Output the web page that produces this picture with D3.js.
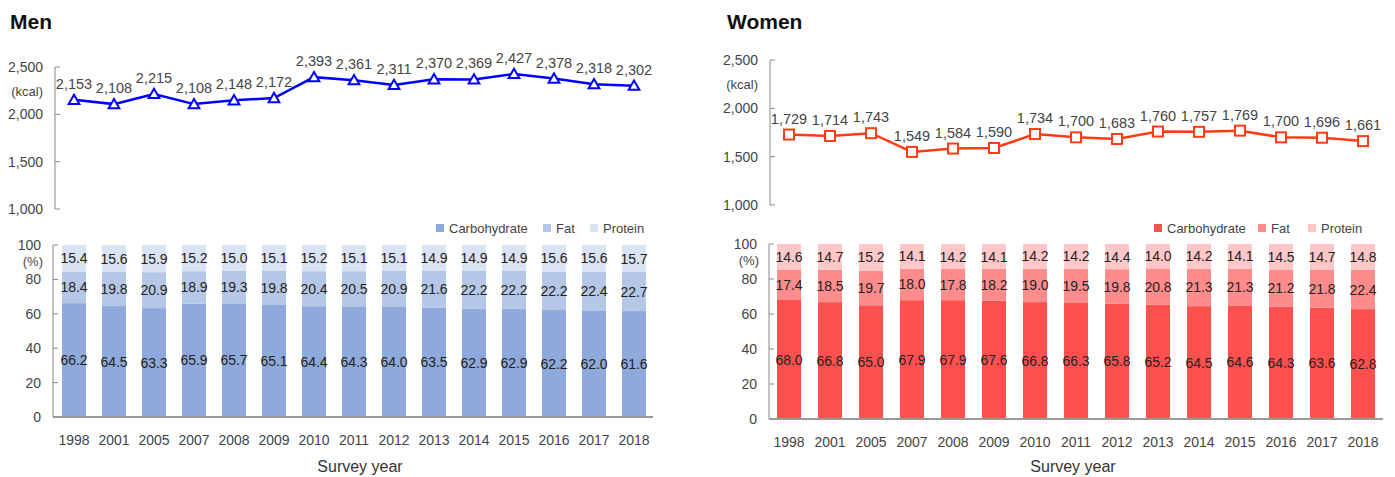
<!DOCTYPE html>
<html>
<head>
<meta charset="utf-8">
<script src="https://cdn.jsdelivr.net/npm/d3@7"></script>
<style>
  body { margin: 0; background: #fff; }
  svg { font-family: "Liberation Sans", Arial, sans-serif; }
  .tick-label { fill: #444; font-size: 14px; }
  .val { fill: #444; font-size: 14.5px; }
  .bar-val { fill: #222; font-size: 14px; }
</style>
</head>
<body>
<script>
// survey years
var years = ["1998","2001","2005","2007","2008","2009","2010","2011","2012","2013","2014","2015","2016","2017","2018"];

// energy intake (kcal)
var menKcal = [2153,2108,2215,2108,2148,2172,2393,2361,2311,2370,2369,2427,2378,2318,2302];
var womenKcal = [1729,1714,1743,1549,1584,1590,1734,1700,1683,1760,1757,1769,1700,1696,1661];

// energy share (%)
var menCarb = [66.2,64.5,63.3,65.9,65.7,65.1,64.4,64.3,64.0,63.5,62.9,62.9,62.2,62.0,61.6];
var menFat = [18.4,19.8,20.9,18.9,19.3,19.8,20.4,20.5,20.9,21.6,22.2,22.2,22.2,22.4,22.7];
var menProt = [15.4,15.6,15.9,15.2,15.0,15.1,15.2,15.1,15.1,14.9,14.9,14.9,15.6,15.6,15.7];
var womenCarb = [68.0,66.8,65.0,67.9,67.9,67.6,66.8,66.3,65.8,65.2,64.5,64.6,64.3,63.6,62.8];
var womenFat = [17.4,18.5,19.7,18.0,17.8,18.2,19.0,19.5,19.8,20.8,21.3,21.3,21.2,21.8,22.4];
var womenProt = [14.6,14.7,15.2,14.1,14.2,14.1,14.2,14.2,14.4,14.0,14.2,14.1,14.5,14.7,14.8];

var kcalTicks = [1000,1500,2000,2500];
var pctTicks = [0,20,40,60,80,100];
var nutrients = ["Carbohydrate","Fat","Protein"];

var svg = d3.select("body").append("svg")
  .attr("width", 1395)
  .attr("height", 477);

var fmt = d3.format(",");

function drawPanel(p) {
  var g = svg.append("g");

  // title
  g.append("text")
    .attr("x", p.titleX).attr("y", 29)
    .style("font-size", "21px").style("font-weight", "bold")
    .attr("fill", "#111")
    .text(p.title);

  var x = d3.scalePoint().domain(years).range([p.x0, p.x1]);

  // ---- line chart ----
  var yL = d3.scaleLinear().domain([1000, 2500]).range([p.lineBottom, p.lineTop]);

  g.append("line")
    .attr("x1", p.lineAxisX).attr("x2", p.lineAxisX)
    .attr("y1", yL(1000)).attr("y2", yL(2500))
    .attr("stroke", "#888").attr("stroke-width", 1);

  g.selectAll(".ktick").data(kcalTicks).enter().append("line")
    .attr("x1", p.lineAxisX).attr("x2", p.lineAxisX + 5)
    .attr("y1", d => yL(d)).attr("y2", d => yL(d))
    .attr("stroke", "#888");

  g.selectAll(".klab").data(kcalTicks).enter().append("text")
    .attr("class", "tick-label")
    .attr("x", p.lineAxisX - 12).attr("y", d => yL(d) + 5)
    .attr("text-anchor", "end")
    .text(d => fmt(d));

  g.append("text")
    .attr("class", "tick-label")
    .attr("x", p.lineAxisX - 12).attr("y", yL(2500) + 29)
    .attr("text-anchor", "end")
    .style("font-size", "13px")
    .text("(kcal)");

  var line = d3.line().x((d, i) => x(years[i])).y(d => yL(d));

  g.append("path")
    .datum(p.kcal)
    .attr("d", line)
    .attr("fill", "none")
    .attr("stroke", p.lineColor)
    .attr("stroke-width", 2.5);

  if (p.marker === "triangle") {
    g.selectAll(".mk").data(p.kcal).enter().append("path")
      .attr("d", d3.symbol().type(d3.symbolTriangle).size(50))
      .attr("transform", (d, i) => "translate(" + x(years[i]) + "," + (yL(d) + 1) + ")")
      .attr("fill", "#fff").attr("stroke", p.lineColor).attr("stroke-width", 2);
  } else {
    g.selectAll(".mk").data(p.kcal).enter().append("rect")
      .attr("x", (d, i) => x(years[i]) - 5).attr("y", d => yL(d) - 5)
      .attr("width", 10).attr("height", 10)
      .attr("fill", "#fff").attr("stroke", p.lineColor).attr("stroke-width", 2);
  }

  g.selectAll(".kv").data(p.kcal).enter().append("text")
    .attr("class", "val")
    .attr("x", (d, i) => x(years[i])).attr("y", d => yL(d) - 11)
    .attr("text-anchor", "middle")
    .text(d => fmt(d));

  // ---- stacked bars ----
  var yB = d3.scaleLinear().domain([0, 100]).range([p.barBottom, p.barTop]);
  var rows = years.map((yr, i) => ({ year: yr, Carbohydrate: p.carb[i], Fat: p.fat[i], Protein: p.prot[i] }));
  var stack = d3.stack().keys(nutrients)(rows);
  var color = d3.scaleOrdinal().domain(nutrients).range(p.colors);
  var bw = 24;

  var layers = g.selectAll(".layer").data(stack).enter().append("g")
    .attr("fill", d => color(d.key));

  layers.selectAll("rect").data(d => d).enter().append("rect")
    .attr("x", d => x(d.data.year) - bw / 2)
    .attr("y", d => yB(Math.min(d[1], 100)))
    .attr("height", d => yB(d[0]) - yB(Math.min(d[1], 100)))
    .attr("width", bw);

  layers.selectAll(".bv").data(d => d).enter().append("text")
    .attr("class", "bar-val")
    .attr("x", d => x(d.data.year))
    .attr("y", d => yB((d[0] + d[1]) / 2) + 5)
    .attr("text-anchor", "middle")
    .text(d => (d[1] - d[0]).toFixed(1));

  // bar axes
  g.append("line")
    .attr("x1", p.barAxisX).attr("x2", p.barAxisX)
    .attr("y1", yB(0)).attr("y2", yB(100))
    .attr("stroke", "#888");
  g.selectAll(".ptick").data(pctTicks).enter().append("line")
    .attr("x1", p.barAxisX).attr("x2", p.barAxisX + 5)
    .attr("y1", d => yB(d)).attr("y2", d => yB(d))
    .attr("stroke", "#888");
  g.append("line")
    .attr("x1", p.barAxisX).attr("x2", p.barAxisEnd)
    .attr("y1", yB(0)).attr("y2", yB(0))
    .attr("stroke", "#999").attr("stroke-width", 2);

  g.selectAll(".plab").data(pctTicks).enter().append("text")
    .attr("class", "tick-label")
    .attr("x", p.barAxisX - 12).attr("y", d => yB(d) + 5)
    .attr("text-anchor", "end")
    .text(d => d);
  g.append("text")
    .attr("class", "tick-label")
    .attr("x", p.barAxisX - 10).attr("y", yB(100) + 21)
    .attr("text-anchor", "end")
    .style("font-size", "13px")
    .text("(%)");

  g.selectAll(".ylab").data(years).enter().append("text")
    .attr("class", "tick-label")
    .style("font-size", "14px")
    .attr("x", d => x(d)).attr("y", p.barBottom + 28)
    .attr("text-anchor", "middle")
    .text(d => d);

  g.append("text")
    .attr("x", p.surveyX).attr("y", 472)
    .attr("text-anchor", "middle")
    .attr("fill", "#333")
    .style("font-size", "16px")
    .text("Survey year");

  // legend
  var lg = g.selectAll(".lg").data(nutrients).enter().append("g")
    .attr("transform", (d, i) => "translate(" + p.legendX[i] + ",229)");
  lg.append("rect")
    .attr("x", 0).attr("y", -5).attr("width", 8).attr("height", 8)
    .attr("fill", d => color(d));
  lg.append("text")
    .attr("x", 13).attr("y", 3.5)
    .attr("fill", "#444")
    .style("font-size", "13px")
    .text(d => d);
}

drawPanel({
  title: "Men", titleX: 10,
  x0: 74, x1: 634,
  lineAxisX: 55, lineTop: 67, lineBottom: 209,
  kcal: menKcal, lineColor: "#0000ff", marker: "triangle",
  barAxisX: 53, barTop: 245, barBottom: 417, barAxisEnd: 653,
  carb: menCarb, fat: menFat, prot: menProt,
  colors: ["#8eaadc", "#b4c7e7", "#dae3f3"],
  surveyX: 360,
  legendX: [436, 543, 590]
});

drawPanel({
  title: "Women", titleX: 727,
  x0: 789, x1: 1363,
  lineAxisX: 770, lineTop: 60, lineBottom: 205,
  kcal: womenKcal, lineColor: "#ff3c14", marker: "square",
  barAxisX: 769, barTop: 244, barBottom: 419, barAxisEnd: 1383,
  carb: womenCarb, fat: womenFat, prot: womenProt,
  colors: ["#ff5050", "#ff8c8c", "#ffc7c7"],
  surveyX: 1073,
  legendX: [1154, 1258, 1308]
});
</script>
</body>
</html>
